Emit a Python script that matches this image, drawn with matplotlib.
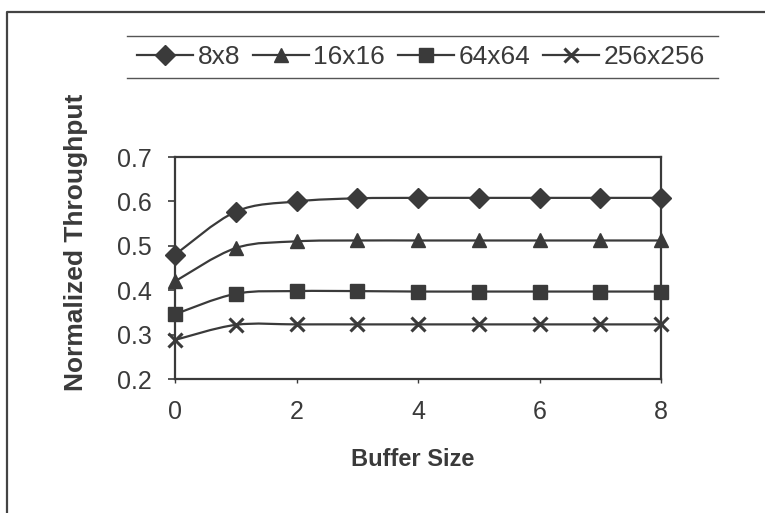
import matplotlib.pyplot as plt
from matplotlib.path import Path
from matplotlib.patches import PathPatch
from matplotlib.lines import Line2D

plt.rcParams['font.family'] = ['Liberation Sans', 'DejaVu Sans']

buffer_size = [0, 1, 2, 3, 4, 5, 6, 7, 8]
tp_8 = [0.480, 0.577, 0.600, 0.607, 0.608, 0.608, 0.608, 0.608, 0.608]
tp_16 = [0.420, 0.495, 0.510, 0.512, 0.512, 0.512, 0.512, 0.512, 0.512]
tp_64 = [0.346, 0.392, 0.398, 0.398, 0.397, 0.397, 0.397, 0.397, 0.397]
tp_256 = [0.288, 0.322, 0.323, 0.323, 0.323, 0.323, 0.323, 0.323, 0.323]
labels = ['8x8', '16x16', '64x64', '256x256']

ink = '#3a3a3a'


def smooth_path(xs, ys):
    # bezier segments through the points, spreadsheet-style smoothing
    pts = list(zip(xs, ys))
    n = len(pts)
    verts = [pts[0]]
    codes = [Path.MOVETO]
    for i in range(n - 1):
        p0 = pts[max(i - 1, 0)]
        p1 = pts[i]
        p2 = pts[i + 1]
        p3 = pts[min(i + 2, n - 1)]
        c1 = (p1[0] + (p2[0] - p0[0]) / 6, p1[1] + (p2[1] - p0[1]) / 6)
        c2 = (p2[0] - (p3[0] - p1[0]) / 6, p2[1] - (p3[1] - p1[1]) / 6)
        verts += [c1, c2, p2]
        codes += [Path.CURVE4] * 3
    return Path(verts, codes)


fig = plt.figure(figsize=(7.65, 5.13), dpi=100)
ax = fig.add_axes([0.2288, 0.2612, 0.6353, 0.4327])

series = [(tp_8, 'D', 10), (tp_16, '^', 10.5), (tp_64, 's', 9.5), (tp_256, 'x', 10)]
handles = []
for (vals, mk, ms), lab in zip(series, labels):
    ax.add_patch(PathPatch(smooth_path(buffer_size, vals), fill=False,
                           edgecolor=ink, lw=1.6, zorder=2, clip_on=False))
    ax.plot(buffer_size, vals, ls='none', marker=mk, ms=ms, color=ink,
            mec=ink, mew=2.2 if mk == 'x' else 1, zorder=3, clip_on=False)
    handles.append(Line2D([], [], color=ink, lw=1.6, marker=mk, ms=ms,
                          mec=ink, mew=2.2 if mk == 'x' else 1, label=lab))

ax.set_xlim(0, 8)
ax.set_ylim(0.2, 0.7)
ax.set_xticks([0, 2, 4, 6, 8])
ax.set_yticks([0.2, 0.3, 0.4, 0.5, 0.6, 0.7])
ax.set_yticklabels(['0.2', '0.3', '0.4', '0.5', '0.6', '0.7'])
ax.tick_params(axis='y', direction='out', length=5, width=1.2, pad=12,
               labelsize=18, colors=ink)
ax.tick_params(axis='x', direction='out', length=3, width=1, pad=12,
               labelsize=18, colors=ink)
for sp in ax.spines.values():
    sp.set_color(ink)
    sp.set_linewidth(1.6)

ax.set_ylabel('Normalized Throughput', fontsize=19, fontweight='bold',
              color=ink)
ax.yaxis.set_label_coords(-0.18, 0.615)
ax.set_xlabel('Buffer Size', fontsize=17, fontweight='bold', color=ink)
ax.xaxis.set_label_coords(0.488, -0.31)

leg = fig.legend(handles=handles, loc='center', ncol=4,
                 bbox_to_anchor=(421 / 765, 1 - 57 / 513), frameon=False,
                 fontsize=19, handlelength=2.1, handletextpad=0.18,
                 columnspacing=0.5, borderaxespad=0)
for t in leg.get_texts():
    t.set_color(ink)

# legend rules above and below
for yy in (36, 78):
    fig.add_artist(Line2D([127 / 765, 718 / 765], [1 - yy / 513, 1 - yy / 513],
                          transform=fig.transFigure, color='#555555', lw=1))

# outer chart border (left and top)
fig.add_artist(Line2D([7 / 765, 7 / 765, 1.0], [0.0, 1 - 12 / 513, 1 - 12 / 513],
                      transform=fig.transFigure, color='#444444', lw=1.6))

fig.savefig('out.png', dpi=100)
